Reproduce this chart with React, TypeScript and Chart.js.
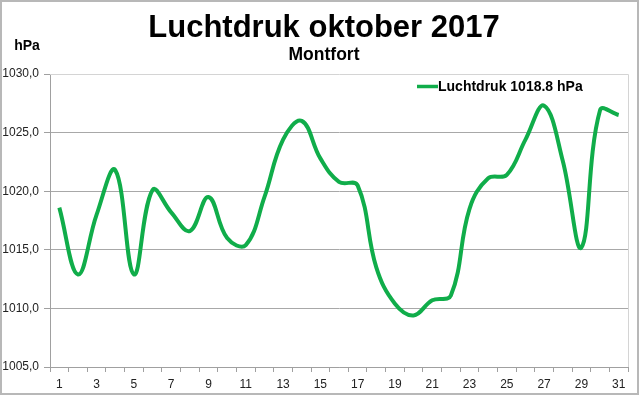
import React, { useEffect, useRef } from "react";
import { Chart, registerables } from "chart.js";

Chart.register(...registerables);

const days: string[] = Array.from({ length: 31 }, (_, i) => String(i + 1));
const pressure: number[] = [
  1018.6, 1012.9, 1018.0, 1021.8, 1012.9, 1020.1, 1018.2, 1016.6, 1019.5, 1016.0,
  1015.4, 1019.5, 1024.4, 1026.0, 1022.8, 1020.8, 1020.5, 1013.5, 1010.4, 1009.4,
  1010.7, 1011.1, 1018.5, 1021.1, 1021.4, 1024.4, 1027.3, 1022.6, 1015.2, 1026.9,
  1026.5,
];
const seriesLabel = "Luchtdruk 1018.8 hPa";
const titleText = "Luchtdruk oktober 2017";
const subtitleText = "Montfort";
const unitText = "hPa";
const yMin = 1005;
const yMax = 1030;
const yStep = 5;

const FONT = '"Liberation Sans", Arial, sans-serif';
const GREEN = "#10ad4a";

const decorPlugin = {
  id: "decor",
  beforeDatasetsDraw(chart: any) {
    const { ctx, chartArea } = chart;
    ctx.save();
    ctx.strokeStyle = "#d4d4d4";
    ctx.lineWidth = 1;
    ctx.beginPath();
    ctx.moveTo(chartArea.left, chartArea.top + 0.5);
    ctx.lineTo(chartArea.right + 0.5, chartArea.top + 0.5);
    ctx.lineTo(chartArea.right + 0.5, chartArea.bottom);
    ctx.stroke();
    ctx.restore();
  },
  afterDraw(chart: any) {
    const { ctx, width, height } = chart;
    ctx.save();
    ctx.strokeStyle = "#b8b8b8";
    ctx.lineWidth = 2;
    ctx.strokeRect(1, 1, width - 3, height - 3);
    ctx.fillStyle = "#000";
    ctx.textAlign = "center";
    ctx.textBaseline = "alphabetic";
    ctx.font = `bold 31px ${FONT}`;
    ctx.fillText(titleText, 324, 37);
    ctx.font = `bold 17.5px ${FONT}`;
    ctx.fillText(subtitleText, 324, 60);
    ctx.font = `bold 14px ${FONT}`;
    ctx.fillText(unitText, 27, 50);
    const ds = chart.data.datasets[0];
    ctx.strokeStyle = GREEN;
    ctx.lineWidth = 3.5;
    ctx.beginPath();
    ctx.moveTo(417, 86.5);
    ctx.lineTo(438, 86.5);
    ctx.stroke();
    ctx.textAlign = "left";
    ctx.textBaseline = "middle";
    ctx.font = `bold 14px ${FONT}`;
    ctx.fillStyle = "#000";
    ctx.fillText(ds.label, 438, 87);
    ctx.restore();
  },
};

export default function App() {
  const ref = useRef<HTMLCanvasElement | null>(null);
  useEffect(() => {
    document.body.style.margin = "0";
    const chart = new Chart(ref.current as HTMLCanvasElement, {
      type: "line",
      data: {
        labels: days,
        datasets: [
          {
            label: seriesLabel,
            data: pressure,
            borderColor: GREEN,
            backgroundColor: GREEN,
            borderWidth: 4,
            pointRadius: 0,
            tension: 0.4,
            fill: false,
          },
        ],
      },
      options: {
        animation: false,
        responsive: false,
        maintainAspectRatio: false,
        layout: { padding: { top: 74, right: 12, left: 0, bottom: 0 } },
        plugins: {
          legend: { display: false },
          title: { display: false },
          tooltip: { enabled: false },
        },
        scales: {
          x: {
            type: "category",
            offset: true,
            afterFit(scale: any) {
              scale.height = 29;
            },
            grid: {
              display: true,
              drawOnChartArea: false,
              drawTicks: true,
              tickLength: 5,
              offset: true,
              color: "#a0a0a0",
            },
            border: { display: true, color: "#a0a0a0", width: 1 },
            ticks: {
              autoSkip: false,
              maxRotation: 0,
              padding: 5,
              color: "#222",
              font: { family: FONT, size: 12 },
              callback: (_v: any, i: number) => (i % 2 === 0 ? days[i] : ""),
            },
          },
          y: {
            min: yMin,
            max: yMax,
            afterFit(scale: any) {
              scale.width = 50;
            },
            grid: {
              color: (c: any) => (c.tick && c.tick.value === yMax ? "rgba(0,0,0,0)" : "#a8a8a8"),
              tickColor: "#a0a0a0",
              tickLength: 6,
              drawTicks: true,
            },
            border: { display: true, color: "#a0a0a0", width: 1 },
            ticks: {
              stepSize: yStep,
              padding: 5,
              color: "#222",
              font: { family: FONT, size: 12 },
              callback: (v: any) => Number(v).toFixed(1).replace(".", ","),
            },
          },
        },
      },
      plugins: [decorPlugin],
    } as any);
    return () => chart.destroy();
  }, []);
  return (
    <div style={{ position: "absolute", left: 0, top: 0, width: 640, height: 396, background: "#fff" }}>
      <canvas ref={ref} width={640} height={396} style={{ width: 640, height: 396 }} />
    </div>
  );
}
